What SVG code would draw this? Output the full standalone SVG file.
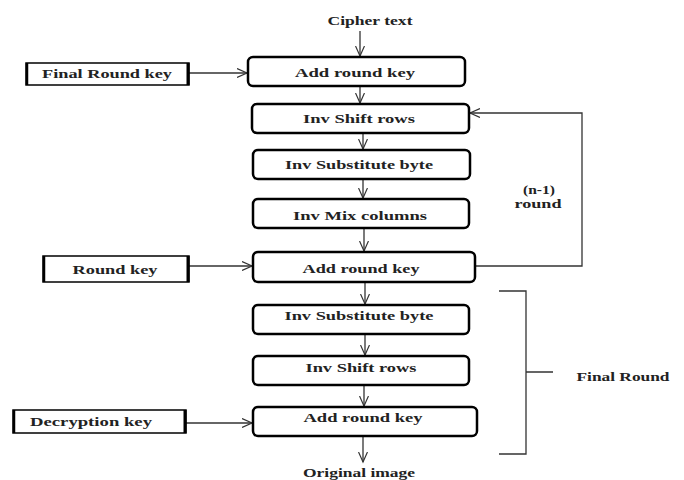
<svg xmlns="http://www.w3.org/2000/svg" width="684" height="480" viewBox="0 0 684 480">
<style>
text{font-family:"Liberation Serif","Times New Roman",serif;font-size:13px;font-weight:bold;fill:#222;}
.sm{font-size:12px;}
.box{fill:#fff;stroke:#000;stroke-width:2.5;}
.key{fill:#fff;stroke:#000;stroke-width:1.5;}
.c{fill:none;stroke:#333;stroke-width:1.3;}
</style>
<defs>
<marker id="ah" markerWidth="12" markerHeight="10" refX="10" refY="5" orient="auto" markerUnits="userSpaceOnUse">
<polyline points="0,0.5 10,5 0,9.5" fill="none" stroke="#333" stroke-width="1.2"/>
</marker>
</defs>
<g id="connectors">
<line class="c" x1="360" y1="31" x2="360" y2="56" marker-end="url(#ah)"/>
<line class="c" x1="360" y1="86" x2="360" y2="103" marker-end="url(#ah)"/>
<line class="c" x1="363" y1="133" x2="363" y2="149" marker-end="url(#ah)"/>
<line class="c" x1="363" y1="179" x2="363" y2="198" marker-end="url(#ah)"/>
<line class="c" x1="364" y1="228" x2="364" y2="251" marker-end="url(#ah)"/>
<line class="c" x1="365" y1="282" x2="365" y2="304" marker-end="url(#ah)"/>
<line class="c" x1="365" y1="334" x2="365" y2="355" marker-end="url(#ah)"/>
<line class="c" x1="364" y1="385" x2="364" y2="406" marker-end="url(#ah)"/>
<line class="c" x1="363" y1="436" x2="363" y2="462" marker-end="url(#ah)"/>
<line class="c" x1="189" y1="73" x2="247" y2="73" marker-end="url(#ah)"/>
<line class="c" x1="189" y1="266" x2="252" y2="266" marker-end="url(#ah)"/>
<line class="c" x1="186" y1="423" x2="252" y2="423" marker-end="url(#ah)"/>
<polyline class="c" points="475,266 582,266 582,113 470,113" marker-end="url(#ah)"/>
<path class="c" d="M499,291 H526 V372 H553 M526,372 V454 H499"/>
</g>
<g id="cipher"><text x="370" y="25" text-anchor="middle" textLength="85" lengthAdjust="spacingAndGlyphs">Cipher text</text></g>
<g id="add1"><rect class="box" x="248" y="57" width="217" height="29" rx="5"/><text x="355" y="77" text-anchor="middle" textLength="120" lengthAdjust="spacingAndGlyphs">Add round key</text></g>
<g id="shift1"><rect class="box" x="252" y="104" width="217" height="29" rx="5"/><text x="359" y="123" text-anchor="middle" textLength="112" lengthAdjust="spacingAndGlyphs">Inv Shift rows</text></g>
<g id="sub1"><rect class="box" x="253" y="150" width="217" height="29" rx="5"/><text x="359" y="169" text-anchor="middle" textLength="148" lengthAdjust="spacingAndGlyphs">Inv Substitute byte</text></g>
<g id="mix"><rect class="box" x="253" y="199" width="216" height="29" rx="5"/><text x="360" y="220" text-anchor="middle" textLength="134" lengthAdjust="spacingAndGlyphs">Inv Mix columns</text></g>
<g id="add2"><rect class="box" x="253" y="252" width="222" height="30" rx="5"/><text x="361" y="273" text-anchor="middle" textLength="117" lengthAdjust="spacingAndGlyphs">Add round key</text></g>
<g id="sub2"><rect class="box" x="253" y="305" width="216" height="29" rx="5"/><text x="359" y="320" text-anchor="middle" textLength="149" lengthAdjust="spacingAndGlyphs">Inv Substitute byte</text></g>
<g id="shift2"><rect class="box" x="253" y="356" width="216" height="29" rx="5"/><text x="361" y="372" text-anchor="middle" textLength="111" lengthAdjust="spacingAndGlyphs">Inv Shift rows</text></g>
<g id="add3"><rect class="box" x="253" y="407" width="224" height="29" rx="5"/><text x="363" y="422" text-anchor="middle" textLength="119" lengthAdjust="spacingAndGlyphs">Add round key</text></g>
<g id="original"><text x="359" y="477" text-anchor="middle" textLength="112" lengthAdjust="spacingAndGlyphs">Original image</text></g>
<g id="finalroundkey"><rect class="key" x="26" y="63" width="163" height="22"/><line x1="188" y1="63" x2="188" y2="85" stroke="#000" stroke-width="3"/><line x1="27" y1="63" x2="27" y2="85" stroke="#000" stroke-width="2.5"/><text x="107" y="78" text-anchor="middle" textLength="130" lengthAdjust="spacingAndGlyphs">Final Round key</text></g>
<g id="roundkey"><rect class="key" x="43" y="256" width="146" height="26"/><line x1="188" y1="256" x2="188" y2="282" stroke="#000" stroke-width="3"/><line x1="44" y1="256" x2="44" y2="282" stroke="#000" stroke-width="2.5"/><text x="115" y="274" text-anchor="middle" textLength="85" lengthAdjust="spacingAndGlyphs">Round key</text></g>
<g id="decryptionkey"><rect class="key" x="13" y="410" width="173" height="23"/><line x1="185" y1="410" x2="185" y2="433" stroke="#000" stroke-width="3"/><line x1="14" y1="410" x2="14" y2="433" stroke="#000" stroke-width="2.5"/><text x="91" y="426" text-anchor="middle" textLength="122" lengthAdjust="spacingAndGlyphs">Decryption key</text></g>
<g id="nround"><text class="sm" x="539" y="194" text-anchor="middle" textLength="32" lengthAdjust="spacingAndGlyphs">(n-1)</text><text class="sm" x="538" y="208" text-anchor="middle" textLength="47" lengthAdjust="spacingAndGlyphs">round</text></g>
<g id="finalround"><text x="623" y="381" text-anchor="middle" textLength="93" lengthAdjust="spacingAndGlyphs">Final Round</text></g>
</svg>
